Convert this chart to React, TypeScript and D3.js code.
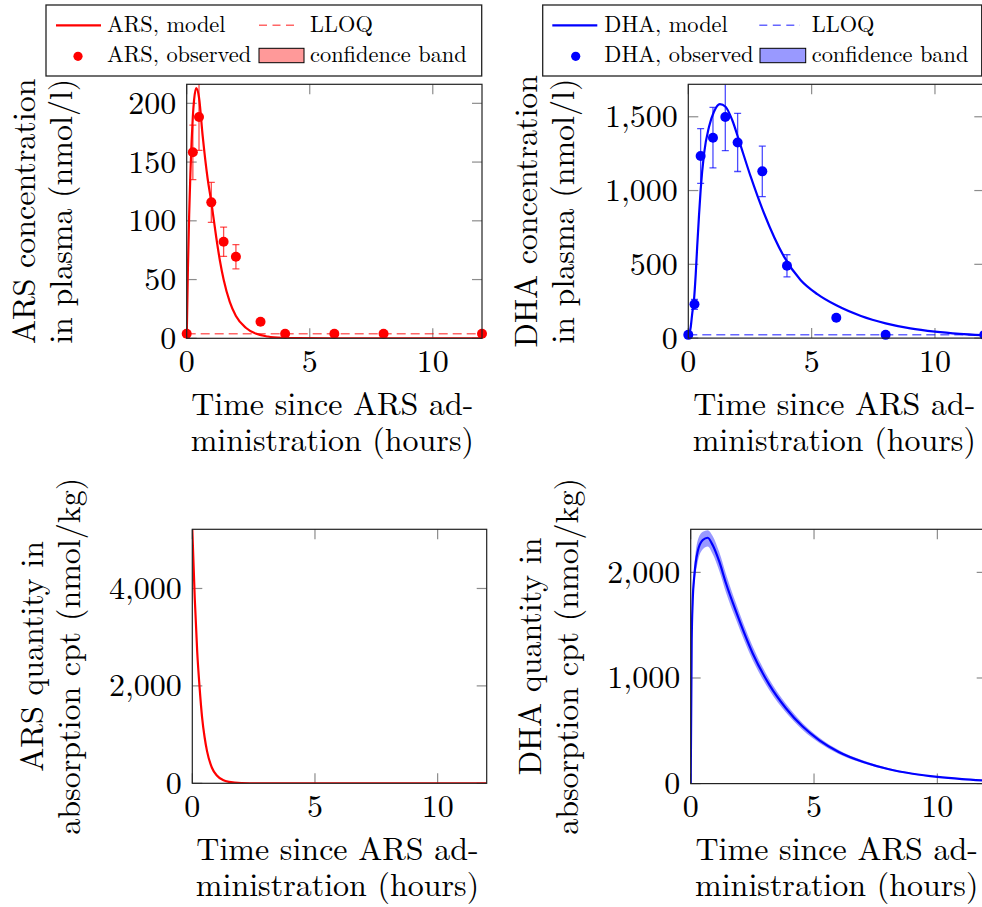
import React from "react";
import * as d3 from "d3";

const FONT_STYLE = { fontFamily: '"Latin Modern Roman", "Liberation Serif", "Times New Roman"' };

// ---------- data ----------
const obsTime = [0, 0.25, 0.5, 1, 1.5, 2, 3, 4, 6, 8, 12];
const arsObs = [3.9, 158.3, 188.3, 115.7, 82.2, 69.4, 14.1, 3.9, 3.9, 3.9, 3.9];
const arsErr = [0, 23.2, 28.3, 17, 12.5, 10.3, 0, 0, 0, 0, 0];
const dhaObs = [22, 229, 1234, 1358, 1498, 1326, 1130, 490, 138, 22, 22];
const dhaErr = [0, 34, 185, 205, 228, 197, 171, 75, 0, 0, 0];
const arsLLOQ = 3.9;
const dhaLLOQ = 22;

const arsModelTime = [0, 0.05, 0.1, 0.15, 0.2, 0.25, 0.3, 0.39, 0.5, 0.65, 0.85, 1.0, 1.2, 1.35, 1.5, 1.75, 2.0, 2.4, 2.8, 3.3, 3.9, 4.5, 6, 8, 10, 12];
const arsModel = [0, 60, 105, 140, 168, 189, 203, 213, 205, 172, 136, 116, 86, 66, 50, 31, 19, 9, 4, 1.5, 0.4, 0.1, 0, 0, 0, 0];

const dhaModelTime = [0, 0.1, 0.16, 0.23, 0.3, 0.36, 0.43, 0.5, 0.64, 0.84, 1.04, 1.28, 1.51, 1.78, 2.05, 2.53, 3.07, 3.88, 4.55, 5.23, 6, 7, 8, 9, 10, 11, 12];
const dhaModel = [0, 77, 168, 258, 430, 619, 820, 1003, 1252, 1432, 1534, 1586, 1568, 1478, 1342, 1094, 846, 552, 394, 298, 222, 150, 100, 66, 44, 29, 19];

const arsAbsTime = [0, 0.1, 0.2, 0.3, 0.4, 0.5, 0.6, 0.8, 1.0, 1.25, 1.5, 2, 2.5, 3, 4, 12];
const arsAbs = [5215, 3800, 2700, 1950, 1350, 950, 660, 320, 160, 68, 30, 5, 1, 0, 0, 0];

const dhaAbsTime = [0, 0.04, 0.08, 0.15, 0.28, 0.49, 0.69, 0.89, 1.16, 1.43, 1.84, 2.51, 3.19, 3.86, 4.54, 5.22, 6, 7, 8, 9, 10, 11, 12];
const dhaAbs = [0, 1345, 1723, 1975, 2196, 2306, 2328, 2259, 2101, 1897, 1628, 1235, 935, 714, 540, 410, 300, 205, 138, 93, 63, 43, 29];
const dhaAbsHi = [0, 1410, 1800, 2065, 2300, 2385, 2400, 2345, 2190, 1985, 1705, 1300, 985, 755, 572, 435, 319, 218, 147, 99, 67, 46, 31];
const dhaAbsLo = [0, 1280, 1646, 1885, 2092, 2220, 2245, 2173, 2012, 1809, 1551, 1170, 885, 673, 508, 385, 281, 192, 129, 87, 59, 40, 27];

const xTicks = [0, 5, 10];
const arsConcTicks = [0, 50, 100, 150, 200];
const dhaConcTicks = [0, 500, 1000, 1500];
const arsAbsTicks = [0, 2000, 4000];
const dhaAbsTicks = [0, 1000, 2000];

const RED = "#ff0000";
const BLUE = "#0000ff";

type Box = { l: number; r: number; t: number; b: number };

function T(props: any) {
  const { style, children, ...rest } = props;
  return (
    <text {...rest} style={{ ...FONT_STYLE, ...(style || {}) }} fill="#000">
      {children}
    </text>
  );
}

function Panel(props: {
  id: string;
  box: Box;
  yMax: number;
  yTicks: number[];
  color: string;
  modelT: number[];
  model: number[];
  bandLo?: number[];
  bandHi?: number[];
  obs?: number[];
  err?: number[];
  lloq?: number;
  yLabel: string[];
  yLabelX: number[];
  xLabel: string[];
}) {
  const { id, box, yMax, yTicks, color, modelT, model, bandLo, bandHi, obs, err, lloq, yLabel, yLabelX, xLabel } = props;
  const x = d3.scaleLinear().domain([0, 12]).range([box.l, box.r]);
  const y = d3.scaleLinear().domain([0, yMax]).range([box.b, box.t]);
  const line = d3
    .line<number>()
    .x((_, i) => x(modelT[i]))
    .y((d) => y(d))
    .curve(d3.curveMonotoneX);
  let bandPath: string | null = null;
  if (bandLo && bandHi) {
    const area = d3
      .area<number>()
      .x((_, i) => x(modelT[i]))
      .y0((_, i) => y(bandLo[i]))
      .y1((_, i) => y(bandHi[i]))
      .curve(d3.curveMonotoneX);
    bandPath = area(bandHi);
  }
  const fmt = d3.format(",");
  const tickLen = 10;
  const tickColor = "#8c8c8c";
  const cx = (box.l + box.r) / 2 - 2;
  const cy = (box.t + box.b) / 2;
  return (
    <g>
      <defs>
        <clipPath id={id}>
          <rect x={box.l} y={box.t} width={box.r - box.l} height={box.b - box.t} />
        </clipPath>
      </defs>
      {xTicks.map((v) => (
        <g key={"xt" + v}>
          <line x1={x(v)} x2={x(v)} y1={box.b} y2={box.b - tickLen} stroke={tickColor} strokeWidth={1.2} />
          <line x1={x(v)} x2={x(v)} y1={box.t} y2={box.t + tickLen} stroke={tickColor} strokeWidth={1.2} />
          <T x={x(v)} y={box.b + 33.5} textAnchor="middle" fontSize={32}>
            {fmt(v)}
          </T>
        </g>
      ))}
      {yTicks.map((v) => (
        <g key={"yt" + v}>
          <line x1={box.l} x2={box.l + tickLen} y1={y(v)} y2={y(v)} stroke={tickColor} strokeWidth={1.2} />
          <line x1={box.r} x2={box.r - tickLen} y1={y(v)} y2={y(v)} stroke={tickColor} strokeWidth={1.2} />
          <T x={box.l - 10.5} y={y(v) + 10.5} textAnchor="end" fontSize={32}>
            {fmt(v)}
          </T>
        </g>
      ))}
      <g clipPath={`url(#${id})`}>
        {lloq !== undefined && (
          <line
            x1={x(0)}
            x2={x(12)}
            y1={y(lloq)}
            y2={y(lloq)}
            stroke={color}
            strokeOpacity={0.6}
            strokeWidth={1.5}
            strokeDasharray="9 5"
          />
        )}
        {bandPath && <path d={bandPath} fill={color} fillOpacity={0.4} stroke="none" />}
        <path d={line(model) || ""} fill="none" stroke={color} strokeWidth={2.2} />
        {obs &&
          err &&
          obs.map((v, i) =>
            err[i] > 0 ? (
              <g key={"e" + i} stroke={color} strokeOpacity={0.7} strokeWidth={1.3}>
                <line x1={x(obsTime[i])} x2={x(obsTime[i])} y1={y(v - err[i])} y2={y(v + err[i])} />
                <line x1={x(obsTime[i]) - 3.5} x2={x(obsTime[i]) + 3.5} y1={y(v - err[i])} y2={y(v - err[i])} />
                <line x1={x(obsTime[i]) - 3.5} x2={x(obsTime[i]) + 3.5} y1={y(v + err[i])} y2={y(v + err[i])} />
              </g>
            ) : null
          )}
      </g>
      {obs && obs.map((v, i) => <circle key={"o" + i} cx={x(obsTime[i])} cy={y(v)} r={5} fill={color} />)}
      <rect x={box.l} y={box.t} width={box.r - box.l} height={box.b - box.t} fill="none" stroke="#222" strokeWidth={1.2} />
      {yLabel.map((s, i) => (
        <T key={"yl" + i} transform={`translate(${yLabelX[i]},${cy}) rotate(-90)`} textAnchor="middle" fontSize={32}>
          {s}
        </T>
      ))}
      {xLabel.map((s, i) => (
        <T key={"xl" + i} x={cx} y={box.b + 76.7 + i * 36} textAnchor="middle" fontSize={32}>
          {s}
        </T>
      ))}
    </g>
  );
}

function Legend(props: {
  box: Box;
  color: string;
  name: string;
  lineX: [number, number];
  textX: number;
  dotX: number;
  dashX: [number, number];
  rectX: [number, number];
  text2X: number;
}) {
  const { box, color, name, lineX, textX, dotX, dashX, rectX, text2X } = props;
  const fs = 22.4;
  return (
    <g>
      <rect x={box.l} y={box.t} width={box.r - box.l} height={box.b - box.t} fill="white" stroke="#222" strokeWidth={1.3} />
      <line x1={lineX[0]} x2={lineX[1]} y1={25.3} y2={25.3} stroke={color} strokeWidth={2.2} />
      <T x={textX} y={32} fontSize={fs}>{`${name}, model`}</T>
      <line x1={dashX[0]} x2={dashX[1]} y1={25.3} y2={25.3} stroke={color} strokeOpacity={0.6} strokeWidth={1.5} strokeDasharray="8 5.5" />
      <T x={text2X} y={32} fontSize={fs}>LLOQ</T>
      <circle cx={dotX} cy={56.3} r={4.6} fill={color} />
      <T x={textX} y={61.5} fontSize={fs}>{`${name}, observed`}</T>
      <rect x={rectX[0]} y={48.3} width={rectX[1] - rectX[0]} height={14.4} fill={color} fillOpacity={0.4} stroke="#000" strokeWidth={1} />
      <T x={text2X} y={61.5} fontSize={fs}>confidence band</T>
    </g>
  );
}

export default function App() {
  const xLabel = ["Time since ARS ad-", "ministration (hours)"];
  return (
    <svg width={982} height={907} style={{ position: "absolute", left: 0, top: 0, background: "white" }}>
      <rect x={0} y={0} width={982} height={907} fill="white" />
      <Panel
        id="c1"
        box={{ l: 186.7, r: 482, t: 84.3, b: 338.3 }}
        yMax={216.2}
        yTicks={arsConcTicks}
        color={RED}
        modelT={arsModelTime}
        model={arsModel}
        obs={arsObs}
        err={arsErr}
        lloq={arsLLOQ}
        yLabel={["ARS concentration", "in plasma (nmol/l)"]}
        yLabelX={[35, 72]}
        xLabel={xLabel}
      />
      <Panel
        id="c2"
        box={{ l: 688.3, r: 984.3, t: 84.3, b: 338.1 }}
        yMax={1720}
        yTicks={dhaConcTicks}
        color={BLUE}
        modelT={dhaModelTime}
        model={dhaModel}
        obs={dhaObs}
        err={dhaErr}
        lloq={dhaLLOQ}
        yLabel={["DHA concentration", "in plasma (nmol/l)"]}
        yLabelX={[536.6, 573.6]}
        xLabel={xLabel}
      />
      <Panel
        id="c3"
        box={{ l: 192.3, r: 486.7, t: 529.3, b: 783.3 }}
        yMax={5215}
        yTicks={arsAbsTicks}
        color={RED}
        modelT={arsAbsTime}
        model={arsAbs}
        yLabel={["ARS quantity in", "absorption cpt (nmol/kg)"]}
        yLabelX={[43, 80]}
        xLabel={xLabel}
      />
      <Panel
        id="c4"
        box={{ l: 690.7, r: 986.7, t: 529.3, b: 783.6 }}
        yMax={2408}
        yTicks={dhaAbsTicks}
        color={BLUE}
        modelT={dhaAbsTime}
        model={dhaAbs}
        bandLo={dhaAbsLo}
        bandHi={dhaAbsHi}
        yLabel={["DHA quantity in", "absorption cpt (nmol/kg)"]}
        yLabelX={[541, 578]}
        xLabel={xLabel}
      />
      <Legend
        box={{ l: 46, r: 481.7, t: 5, b: 76 }}
        color={RED}
        name="ARS"
        lineX={[56, 101]}
        textX={107}
        dotX={78}
        dashX={[259, 297]}
        rectX={[259, 304]}
        text2X={310}
      />
      <Legend
        box={{ l: 542.7, r: 981.7, t: 5, b: 76 }}
        color={BLUE}
        name="DHA"
        lineX={[552.3, 597.3]}
        textX={604.3}
        dotX={575.7}
        dashX={[759.3, 800]}
        rectX={[760, 805.7]}
        text2X={811.7}
      />
    </svg>
  );
}
